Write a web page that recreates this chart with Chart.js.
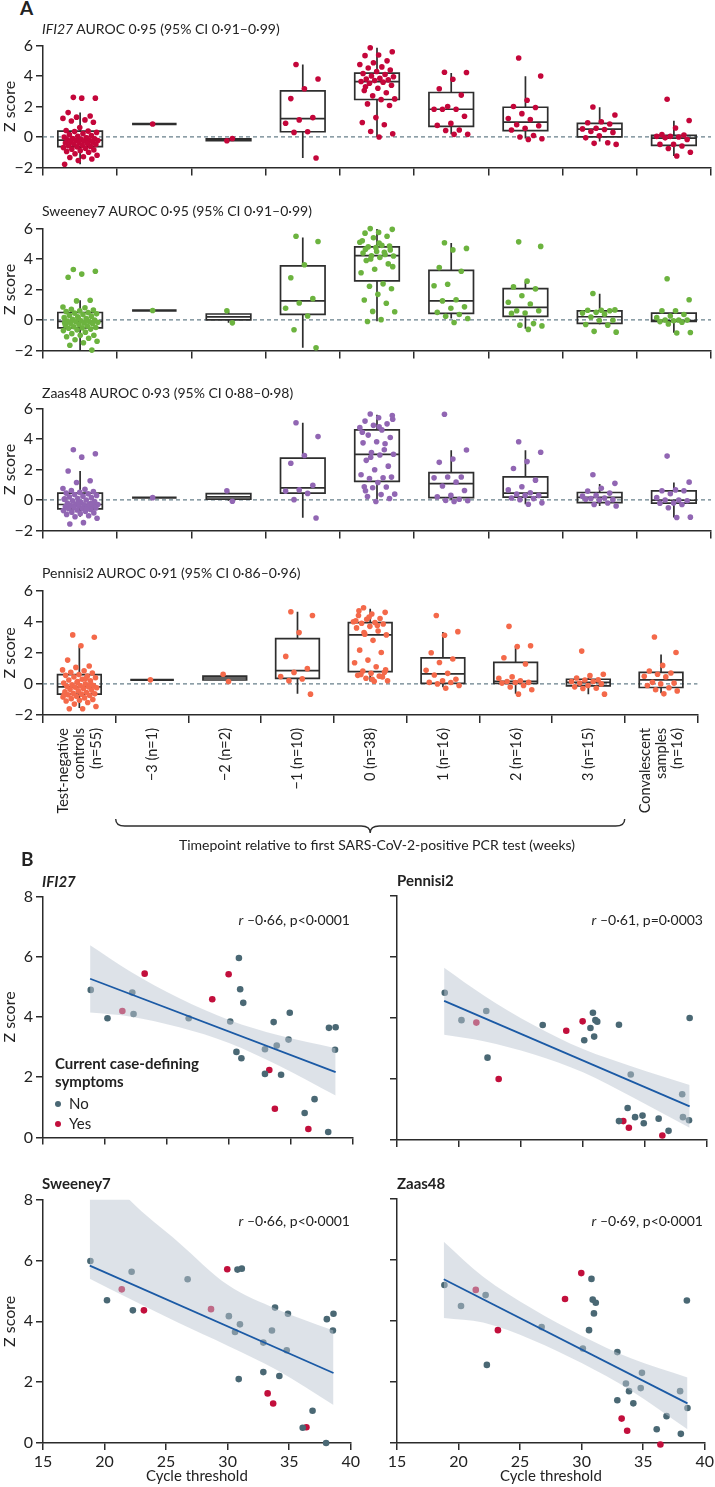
<!DOCTYPE html>
<html>
<head>
<meta charset="utf-8">
<script src="https://cdn.jsdelivr.net/npm/chart.js@4.4.1/dist/chart.umd.min.js"></script>
<style>
  body { margin: 0; background: #fff; width: 715px; height: 1487px; position: relative; overflow: hidden; font-family: Lato, sans-serif; color: #222; }
  canvas { position: absolute; }
  .t { position: absolute; white-space: nowrap; font-size: 14px; line-height: 18px; }
  .panel { font-weight: bold; font-size: 19px; }
  .b { font-weight: bold; font-size: 15px; }
  .dot { display: inline-block; width: 6px; height: 6px; border-radius: 50%; margin-right: 8px; vertical-align: 2px; }
</style>
</head>
<body>
<canvas id="a1" width="715" height="147" style="left:0;top:33px"></canvas>
<canvas id="a2" width="715" height="147" style="left:0;top:216px"></canvas>
<canvas id="a3" width="715" height="147" style="left:0;top:396px"></canvas>
<canvas id="a4" width="715" height="280" style="left:0;top:578px"></canvas>
<canvas id="b1" width="362" height="266" style="left:0;top:884px"></canvas>
<canvas id="b2" width="362" height="266" style="left:354px;top:884px"></canvas>
<canvas id="b3" width="362" height="300" style="left:0;top:1187px"></canvas>
<canvas id="b4" width="362" height="300" style="left:354px;top:1187px"></canvas>

<div class="t panel" style="left:20px;top:-1px">A</div>
<div class="t" style="left:42px;top:20px"><i>IFI27</i> AUROC 0·95 (95% CI 0·91–0·99)</div>
<div class="t" style="left:42px;top:202px">Sweeney7 AUROC 0·95 (95% CI 0·91–0·99)</div>
<div class="t" style="left:42px;top:384px">Zaas48 AUROC 0·93 (95% CI 0·88–0·98)</div>
<div class="t" style="left:42px;top:564px">Pennisi2 AUROC 0·91 (95% CI 0·86–0·96)</div>
<div class="t" style="left:377px;top:836px;transform:translateX(-50%)">Timepoint relative to first SARS-CoV-2-positive PCR test (weeks)</div>

<div class="t panel" style="left:21px;top:850px">B</div>
<div class="t b" style="left:42px;top:872px"><i>IFI27</i></div>
<div class="t b" style="left:397px;top:871px">Pennisi2</div>
<div class="t b" style="left:42px;top:1174px">Sweeney7</div>
<div class="t b" style="left:397px;top:1174px">Zaas48</div>
<div class="t" style="right:365px;top:911px"><i>r</i> –0·66, p&lt;0·0001</div>
<div class="t" style="right:12px;top:911px"><i>r</i> –0·61, p=0·0003</div>
<div class="t" style="right:365px;top:1212px"><i>r</i> –0·66, p&lt;0·0001</div>
<div class="t" style="right:12px;top:1212px"><i>r</i> –0·69, p&lt;0·0001</div>
<div class="t b" style="left:55px;top:1054px;line-height:18px">Current case-defining<br>symptoms</div>
<div class="t" style="left:55px;top:1094px;font-size:15px"><span class="dot" style="background:#4a6874"></span>No</div>
<div class="t" style="left:55px;top:1114px;font-size:15px"><span class="dot" style="background:#c20f3c"></span>Yes</div>

<script>
// ---- Panel A: categories ----
var timeLabels = [
  ["Test-negative", "controls", "(n=55)"],
  ["", "\u22123 (n=1)"], ["", "\u22122 (n=2)"], ["", "\u22121 (n=10)"],
  ["", "0 (n=38)"], ["", "1 (n=16)"], ["", "2 (n=16)"], ["", "3 (n=15)"],
  ["Convalescent", "samples", "(n=16)"]
];

// individual z scores per category
var ifi27Pts = [
  [2.6, 2.55, 2.55, 1.6, 1.38, 1.3, 1.22, 1.12, 1.05, 0.97, 0.62, 0.42, 0.38, 0.35, 0.3, 0.22, 0.15, 0.1, 0.05, 0.0,
   -0.05, -0.1, -0.12, -0.15, -0.18, -0.2, -0.22, -0.24, -0.27, -0.3, -0.33, -0.36, -0.4, -0.43, -0.46, -0.5, -0.54, -0.58, -0.62, -0.65,
   -0.7, -0.75, -0.8, -0.85, -0.9, -0.95, -1.0, -1.1, -1.2, -1.3, -1.35, -1.45, -1.55, -1.8, -0.08],
  [0.85],
  [-0.25, -0.1],
  [4.76, 3.81, 3.17, 2.52, 1.27, 1.12, 0.9, 0.34, 0.3, -1.38],
  [5.86, 5.6, 5.38, 5.34, 5.0, 4.87, 4.76, 4.6, 4.53, 4.4, 4.3, 4.17, 4.1, 4.0, 3.95, 3.85, 3.8, 3.75, 3.7, 3.64,
   3.6, 3.53, 3.4, 3.2, 3.05, 2.9, 2.7, 2.5, 2.45, 2.17, 2.07, 1.27, 0.95, 0.8, 0.36, 0.21, 0.0, 3.3],
  [4.25, 4.23, 3.79, 3.17, 2.75, 2.0, 1.82, 1.82, 1.82, 1.36, 0.89, 0.76, 0.46, 0.42, 0.17, 0.17],
  [5.19, 4.0, 2.41, 2.0, 1.93, 1.53, 1.21, 1.14, 0.8, 0.74, 0.57, 0.46, 0.1, 0.0, -0.12, -0.17],
  [1.97, 1.44, 1.0, 0.93, 0.85, 0.57, 0.53, 0.49, 0.36, 0.3, 0.08, -0.06, -0.38, -0.42, -0.49],
  [2.48, 1.08, 0.59, 0.15, 0.13, 0.04, 0.04, 0.0, -0.06, -0.17, -0.49, -0.49, -0.59, -0.76, -1.0, -1.25]
];
var sweeney7Pts = [
  [3.31, 3.2, 3.01, 2.8, 1.29, 1.25, 0.85, 0.8, 0.7, 0.65, 0.6, 0.55, 0.49, 0.45, 0.4, 0.35, 0.3, 0.25, 0.2, 0.15,
   0.1, 0.05, 0.0, -0.05, -0.08, -0.1, -0.12, -0.15, -0.2, -0.22, -0.25, -0.3, -0.35, -0.4, -0.45, -0.5, -0.52, -0.55, -0.6, -0.65,
   -0.7, -0.8, -0.9, -1.0, -1.01, -1.1, -1.2, -1.3, -1.4, -1.5, -1.66, -1.98, 0.12, -0.18, 0.02],
  [0.62],
  [0.6, -0.19],
  [5.5, 5.15, 3.63, 2.77, 1.4, 1.11, 0.77, 0.26, -0.64, -1.83],
  [6.0, 5.95, 5.75, 5.7, 5.5, 5.4, 5.1, 4.9, 4.8, 4.6, 4.5, 4.4, 4.3, 4.22, 4.2, 4.1, 3.9, 3.68, 3.33, 3.1,
   2.37, 2.21, 2.05, 1.68, 1.31, 1.1, 0.56, 0.54, 0.02, -0.1, 4.85, 4.75, 5.2, 4.45, 4.0, 3.5, 5.05, 4.65],
  [5.07, 4.7, 4.6, 3.44, 3.2, 2.34, 2.25, 1.33, 1.25, 0.86, 0.77, 0.5, 0.36, 0.24, 0.1, -0.17],
  [5.13, 4.83, 2.55, 2.17, 2.04, 1.59, 1.16, 1.05, 0.6, 0.6, 0.46, 0.43, -0.24, -0.34, -0.39, -0.62],
  [1.74, 0.66, 0.64, 0.64, 0.6, 0.5, 0.45, 0.38, 0.19, -0.02, -0.04, -0.3, -0.34, -0.75, -0.8],
  [2.71, 1.33, 0.6, 0.6, 0.36, 0.26, 0.15, 0.0, 0.0, -0.01, -0.05, -0.11, -0.15, -0.26, -0.82, -0.86]
];
var zaas48Pts = [
  [3.3, 3.03, 2.81, 1.9, 1.26, 1.15, 0.75, 0.7, 0.62, 0.55, 0.5, 0.45, 0.4, 0.35, 0.3, 0.25, 0.2, 0.15, 0.1, 0.05,
   0.0, -0.05, -0.1, -0.15, -0.2, -0.25, -0.28, -0.3, -0.32, -0.35, -0.38, -0.4, -0.43, -0.46, -0.5, -0.53, -0.56, -0.58, -0.62, -0.66,
   -0.7, -0.75, -0.8, -0.85, -0.9, -0.95, -1.04, -1.1, -1.2, -1.49, -1.58, -0.22, -0.12, 0.08, -0.6],
  [0.15],
  [0.6, -0.09],
  [5.07, 4.16, 2.92, 2.41, 0.96, 0.66, 0.58, 0.43, 0.02, -1.19],
  [5.65, 5.55, 5.4, 5.18, 5.0, 4.9, 4.75, 4.6, 4.26, 4.1, 3.82, 3.75, 3.69, 3.11, 3.0, 2.95, 2.6, 2.22, 1.98, 1.66,
   1.45, 1.41, 1.5, 1.15, 0.87, 0.85, 0.8, 0.38, 0.35, 0.23, 0.1, -0.1, 4.45, 3.3, 2.8, 5.3, 4.8, 0.6],
  [5.63, 3.28, 2.69, 2.47, 1.51, 1.51, 1.45, 1.17, 0.92, 0.62, 0.3, 0.21, 0.05, -0.04, -0.05, -0.1],
  [3.82, 3.13, 2.52, 2.07, 1.3, 0.87, 0.66, 0.47, 0.38, 0.3, 0.3, 0.13, 0.09, 0.02, -0.19, -0.28],
  [1.66, 1.09, 0.77, 0.58, 0.45, 0.3, 0.25, 0.13, 0.1, 0.02, 0.0, 0.05, -0.2, -0.3, -0.4],
  [2.88, 1.17, 0.66, 0.6, 0.6, 0.41, 0.15, 0.0, 0.0, -0.05, -0.2, -0.21, -0.3, -0.51, -1.13, -1.15]
];
var pennisi2Pts = [
  [3.15, 3.0, 2.45, 1.53, 1.15, 1.06, 0.9, 0.85, 0.75, 0.7, 0.6, 0.55, 0.5, 0.45, 0.4, 0.3, 0.25, 0.2, 0.1, 0.05,
   0.0, -0.05, -0.1, -0.12, -0.15, -0.19, -0.22, -0.25, -0.3, -0.35, -0.4, -0.45, -0.5, -0.55, -0.6, -0.64, -0.66, -0.7, -0.75, -0.8,
   -0.85, -0.9, -0.95, -1.0, -1.05, -1.1, -1.2, -1.3, -1.45, -1.6, -1.6, -0.02, 0.15, -0.68, 0.35],
  [0.26],
  [0.62, 0.15],
  [4.64, 4.4, 3.3, 1.77, 0.98, 0.74, 0.47, 0.32, 0.21, -0.66],
  [4.9, 4.6, 4.5, 4.4, 4.2, 4.15, 4.0, 3.95, 3.9, 3.85, 3.7, 3.6, 3.4, 3.2, 3.15, 2.8, 2.17, 2.02, 1.53, 1.36,
   1.1, 0.83, 0.75, 0.68, 0.55, 0.5, 0.36, 0.2, 0.17, 0.6, 0.45, 4.3, 4.05, 3.75, 3.3, 0.9, 0.3, 4.7],
  [4.4, 3.36, 3.13, 2.0, 1.6, 1.38, 0.87, 0.68, 0.57, 0.3, 0.2, 0.1, 0.09, 0.0, -0.1, -0.28],
  [3.7, 2.45, 2.4, 1.68, 1.28, 0.45, 0.36, 0.2, 0.15, 0.1, 0.09, 0.05, -0.1, -0.2, -0.38, -0.66],
  [2.11, 0.62, 0.53, 0.38, 0.26, 0.25, 0.15, 0.15, 0.05, 0.0, -0.1, -0.19, -0.28, -0.3, -0.66],
  [3.02, 2.02, 1.19, 0.83, 0.7, 0.62, 0.49, 0.45, 0.1, 0.05, 0.0, -0.1, -0.25, -0.38, -0.45, -0.64]
];

// box stats per category: [whisker low, q1, median, q3, whisker high]
var ifi27Box = [[-1.8, -0.63, -0.21, 0.38, 1.6], [0.85, 0.85, 0.85, 0.85, 0.85], [-0.25, -0.24, -0.18, -0.13, -0.1],
  [-1.38, 0.34, 1.2, 3.03, 4.76], [0.0, 2.46, 3.64, 4.19, 5.86], [0.17, 0.7, 1.82, 2.92, 4.2],
  [-0.1, 0.42, 0.97, 1.95, 3.98], [-0.3, 0.0, 0.51, 0.89, 1.95], [-1.25, -0.55, -0.08, 0.1, 1.06]];
var sweeney7Box = [[-1.98, -0.52, -0.09, 0.49, 1.29], [0.62, 0.62, 0.62, 0.62, 0.62], [-0.19, 0.0, 0.2, 0.39, 0.55],
  [-1.83, 0.37, 1.25, 3.55, 5.42], [-0.08, 2.56, 4.22, 4.8, 5.98], [0.1, 0.43, 1.25, 3.25, 5.05],
  [-0.58, 0.24, 0.82, 2.06, 2.5], [-0.3, -0.22, 0.21, 0.6, 1.72], [-0.84, -0.09, -0.05, 0.45, 0.56]];
var zaas48Box = [[-1.1, -0.58, -0.3, 0.45, 1.9], [0.15, 0.15, 0.15, 0.15, 0.15], [-0.05, 0.06, 0.2, 0.42, 0.55],
  [-1.17, 0.45, 0.79, 2.75, 5.07], [0.02, 1.22, 3.0, 4.6, 5.6], [0.02, 0.15, 1.07, 1.79, 3.26],
  [-0.28, 0.19, 0.45, 1.51, 3.26], [-0.4, -0.17, 0.17, 0.49, 1.05], [-1.15, -0.21, -0.02, 0.6, 1.15]];
var pennisi2Box = [[-1.55, -0.66, -0.19, 0.6, 2.43], [0.26, 0.26, 0.26, 0.26, 0.26], [0.2, 0.25, 0.38, 0.5, 0.55],
  [-0.64, 0.36, 0.85, 2.91, 4.64], [0.15, 0.79, 3.15, 3.94, 4.83], [-0.21, 0.04, 0.64, 1.68, 3.34],
  [-0.64, 0.04, 0.17, 1.38, 2.43], [-0.66, -0.13, 0.1, 0.3, 0.4], [-0.6, -0.23, 0.26, 0.74, 1.89]];

// ---- Panel B: cycle threshold vs z score ----
var ctValues = [18.85, 20.2, 21.4, 22.2, 22.3, 23.2, 26.75, 28.65, 29.97, 30.1, 30.6, 30.8, 30.9, 31.0, 31.15, 32.9,
  32.9, 33.25, 33.6, 33.7, 33.85, 34.2, 34.8, 34.9, 36.1, 36.4, 36.9, 38.0, 38.06, 38.55, 38.6];
var symptomatic = [0, 0, 1, 0, 0, 1, 0, 1, 1, 0, 0, 0, 0, 0, 0, 0, 0, 1, 0, 1, 0, 0, 0, 0, 0, 1, 0, 0, 0, 0, 0];
var ifi27Z = [4.90, 3.96, 4.20, 4.81, 4.10, 5.44, 3.96, 4.59, 5.42, 3.85, 2.84, 5.96, 4.92, 2.63, 4.47, 2.93,
  2.11, 2.24, 3.83, 0.95, 3.05, 2.08, 3.25, 4.14, 0.81, 0.28, 1.27, 0.18, 3.64, 2.91, 3.66];
var pennisi2Z = [4.83, 3.93, 3.85, 4.23, 2.70, 2.00, 3.77, 3.58, 3.89, 3.27, 3.67, 4.17, 3.39, 3.93, 3.88, 3.78,
  0.62, 0.62, 1.05, 0.40, 2.15, 0.75, 0.80, 0.55, 0.70, 0.15, 0.30, 1.50, 0.75, 0.65, 4.00];
var sweeney7Z = [5.98, 4.69, 5.05, 5.63, 4.36, 4.36, 5.38, 4.40, 5.71, 4.17, 3.65, 5.70, 2.10, 3.90, 5.73, 3.30,
  2.33, 1.63, 3.70, 1.30, 4.45, 2.20, 3.05, 4.25, 0.50, 0.52, 1.06, 0.00, 4.07, 3.70, 4.25];
var zaas48Z = [5.18, 4.49, 5.02, 4.85, 2.56, 3.70, 3.80, 4.72, 5.57, 3.10, 3.70, 5.38, 4.70, 4.25, 4.60, 2.98,
  1.40, 0.80, 1.95, 0.40, 1.70, 1.30, 1.80, 2.30, 0.45, -0.05, 0.88, 1.70, 0.30, 4.67, 1.15];

// regression line ends and 95% band
var fitCt = [18.8, 38.6];
var ifi27Fit = [5.27, 2.17];
var pennisi2Fit = [4.56, 1.1];
var sweeney7Fit = [5.83, 2.3];
var zaas48Fit = [5.37, 1.3];
var bandCt = [18.8, 22, 26, 30, 34, 38.6];
var ifi27Lo = [4.15, 4.02, 3.66, 3.14, 2.39, 1.39];
var ifi27Hi = [6.38, 5.52, 4.62, 3.90, 3.39, 2.96];
var pennisi2Lo = [3.45, 3.24, 2.81, 2.22, 1.4, 0.4];
var pennisi2Hi = [5.65, 4.74, 3.77, 2.98, 2.4, 1.8];
var sweeney7Lo = [5.4, 4.75, 3.95, 3.2, 2.4, 1.25];
var sweeney7Hi = [9.5, 8.0, 6.6, 5.2, 4.4, 3.7];
var zaas48Lo = [4.1, 3.95, 3.38, 2.62, 1.72, 0.45];
var zaas48Hi = [6.6, 5.45, 4.4, 3.52, 2.78, 2.15];

Chart.defaults.font.family = "Lato";
Chart.defaults.font.size = 16;
Chart.defaults.color = "#222";
var axisColor = "#2b2b2b";

function minusTick(v) {
  return v < 0 ? "\u2212" + (-v) : String(v);
}

// spread points sideways inside a category
function jitter(k, n) {
  var amp = n >= 10 ? 0.24 : 0.06;
  return (((k * 0.618034 + 0.31) % 1) - 0.5) * 2 * amp;
}

var boxPlugin = {
  id: "boxes",
  beforeDatasetsDraw: function (chart, args, opts) {
    var ctx = chart.ctx, xj = chart.scales.xj, y = chart.scales.y, area = chart.chartArea;
    ctx.save();
    var y0 = y.getPixelForValue(0);
    ctx.strokeStyle = "#68808b";
    ctx.lineWidth = 1.3;
    ctx.setLineDash([4, 3]);
    ctx.beginPath();
    ctx.moveTo(area.left, y0);
    ctx.lineTo(area.right, y0);
    ctx.stroke();
    ctx.setLineDash([]);
    ctx.strokeStyle = "#2e2e2e";
    opts.stats.forEach(function (s, i) {
      var cx = xj.getPixelForValue(i);
      var l = xj.getPixelForValue(i - 0.3), r = xj.getPixelForValue(i + 0.3);
      var p = s.map(function (v) { return y.getPixelForValue(v); });
      ctx.lineWidth = s[1] === s[3] ? 2.4 : 1.7;
      ctx.beginPath();
      ctx.moveTo(cx, p[0]); ctx.lineTo(cx, p[1]);
      ctx.moveTo(cx, p[3]); ctx.lineTo(cx, p[4]);
      ctx.rect(l, p[3], r - l, p[1] - p[3]);
      ctx.moveTo(l, p[2]); ctx.lineTo(r, p[2]);
      ctx.stroke();
    });
    ctx.restore();
  }
};

var bracePlugin = {
  id: "brace",
  afterDraw: function (chart) {
    var ctx = chart.ctx, xj = chart.scales.xj;
    var x1 = xj.getPixelForValue(0.5), x2 = xj.getPixelForValue(7.5), xm = (x1 + x2) / 2;
    var y0 = 241, h = 7;
    ctx.save();
    ctx.strokeStyle = "#2e2e2e";
    ctx.lineWidth = 1.4;
    ctx.beginPath();
    ctx.moveTo(x1, y0);
    ctx.quadraticCurveTo(x1, y0 + h, x1 + 9, y0 + h);
    ctx.lineTo(xm - 9, y0 + h);
    ctx.quadraticCurveTo(xm, y0 + h, xm, y0 + 2 * h);
    ctx.quadraticCurveTo(xm, y0 + h, xm + 9, y0 + h);
    ctx.lineTo(x2 - 9, y0 + h);
    ctx.quadraticCurveTo(x2, y0 + h, x2, y0);
    ctx.stroke();
    ctx.restore();
  }
};

function boxChart(id, pts, stats, color, last) {
  var data = [];
  pts.forEach(function (vals, c) {
    vals.forEach(function (v, k) {
      data.push({ x: c + jitter(k, vals.length), y: v });
    });
  });
  new Chart(document.getElementById(id), {
    type: "scatter",
    data: {
      datasets: [{
        data: data, xAxisID: "xj", yAxisID: "y",
        backgroundColor: color, borderWidth: 0, pointRadius: 2.8, clip: 6
      }]
    },
    options: {
      responsive: false,
      animation: false,
      events: [],
      layout: { padding: { top: 12, right: 2, left: 0, bottom: 0 } },
      plugins: { legend: { display: false }, tooltip: { enabled: false }, boxes: { stats: stats } },
      scales: {
        x: {
          type: "category", labels: timeLabels, offset: true, position: "bottom",
          grid: { offset: true, drawOnChartArea: false, tickLength: 8, color: axisColor, lineWidth: 1.5 },
          border: { color: axisColor, width: 1.5 },
          ticks: {
            display: last, autoSkip: false, minRotation: 90, maxRotation: 90,
            padding: 5, labelOffset: -16, font: { size: 14.5, lineHeight: 1.12 }
          },
          afterFit: function (s) { s.height = last ? 143 : 10; }
        },
        xj: { type: "linear", display: false, min: -0.5, max: 8.5 },
        y: {
          min: -2, max: 6,
          ticks: { stepSize: 2, padding: 3, callback: minusTick },
          grid: { drawOnChartArea: false, tickLength: 7, color: axisColor, lineWidth: 1.5 },
          border: { color: axisColor, width: 1.5 },
          title: { display: true, text: "Z score", padding: { top: 0, bottom: 0 } },
          afterFit: function (s) { s.width = 43; }
        }
      }
    },
    plugins: last ? [boxPlugin, bracePlugin] : [boxPlugin]
  });
}

function regChart(id, z, fit, lo, hi, showY, showX) {
  var no = [], yes = [];
  ctValues.forEach(function (c, i) {
    (symptomatic[i] ? yes : no).push({ x: c, y: z[i] });
  });
  new Chart(document.getElementById(id), {
    type: "scatter",
    data: {
      datasets: [
        { type: "line", data: fitCt.map(function (c, i) { return { x: c, y: fit[i] }; }),
          borderColor: "#1b5aa5", borderWidth: 1.8, pointRadius: 0, order: 0 },
        { type: "line", data: bandCt.map(function (c, i) { return { x: c, y: hi[i] }; }),
          borderColor: "rgba(0,0,0,0)", borderWidth: 0, pointRadius: 0, fill: "+1",
          backgroundColor: "rgba(188,197,210,0.5)", cubicInterpolationMode: "monotone", order: 1 },
        { type: "line", data: bandCt.map(function (c, i) { return { x: c, y: lo[i] }; }),
          borderColor: "rgba(0,0,0,0)", borderWidth: 0, pointRadius: 0, fill: false,
          cubicInterpolationMode: "monotone", order: 1 },
        { data: no, backgroundColor: "#4a6874", borderWidth: 0, pointRadius: 3.3, order: 2, clip: 6 },
        { data: yes, backgroundColor: "#c20f3c", borderWidth: 0, pointRadius: 3.3, order: 2, clip: 6 }
      ]
    },
    options: {
      responsive: false,
      animation: false,
      events: [],
      layout: { padding: { top: 12, right: 9, left: 0, bottom: 0 } },
      plugins: { legend: { display: false }, tooltip: { enabled: false } },
      scales: {
        x: {
          type: "linear", min: 15, max: 40,
          ticks: { stepSize: 5, display: showX, padding: 2 },
          grid: { drawOnChartArea: false, tickLength: 7, color: axisColor, lineWidth: 1.5 },
          border: { color: axisColor, width: 1.5 },
          title: { display: showX, text: "Cycle threshold", font: { size: 15 }, padding: { top: 0, bottom: 2 } },
          afterFit: function (s) { s.height = showX ? 44 : 10; }
        },
        y: {
          min: 0, max: 8,
          ticks: { stepSize: 2, display: showY, padding: 3 },
          grid: { drawOnChartArea: false, tickLength: 7, color: axisColor, lineWidth: 1.5 },
          border: { color: axisColor, width: 1.5 },
          title: { display: showY, text: "Z score", padding: { top: 0, bottom: 0 } },
          afterFit: function (s) { s.width = 43; }
        }
      }
    }
  });
}

boxChart("a1", ifi27Pts, ifi27Box, "#c4063a", false);
boxChart("a2", sweeney7Pts, sweeney7Box, "#6cb33f", false);
boxChart("a3", zaas48Pts, zaas48Box, "#9166b3", false);
boxChart("a4", pennisi2Pts, pennisi2Box, "#f4694a", true);

regChart("b1", ifi27Z, ifi27Fit, ifi27Lo, ifi27Hi, true, false);
regChart("b2", pennisi2Z, pennisi2Fit, pennisi2Lo, pennisi2Hi, false, false);
regChart("b3", sweeney7Z, sweeney7Fit, sweeney7Lo, sweeney7Hi, true, true);
regChart("b4", zaas48Z, zaas48Fit, zaas48Lo, zaas48Hi, false, true);
</script>
</body>
</html>
